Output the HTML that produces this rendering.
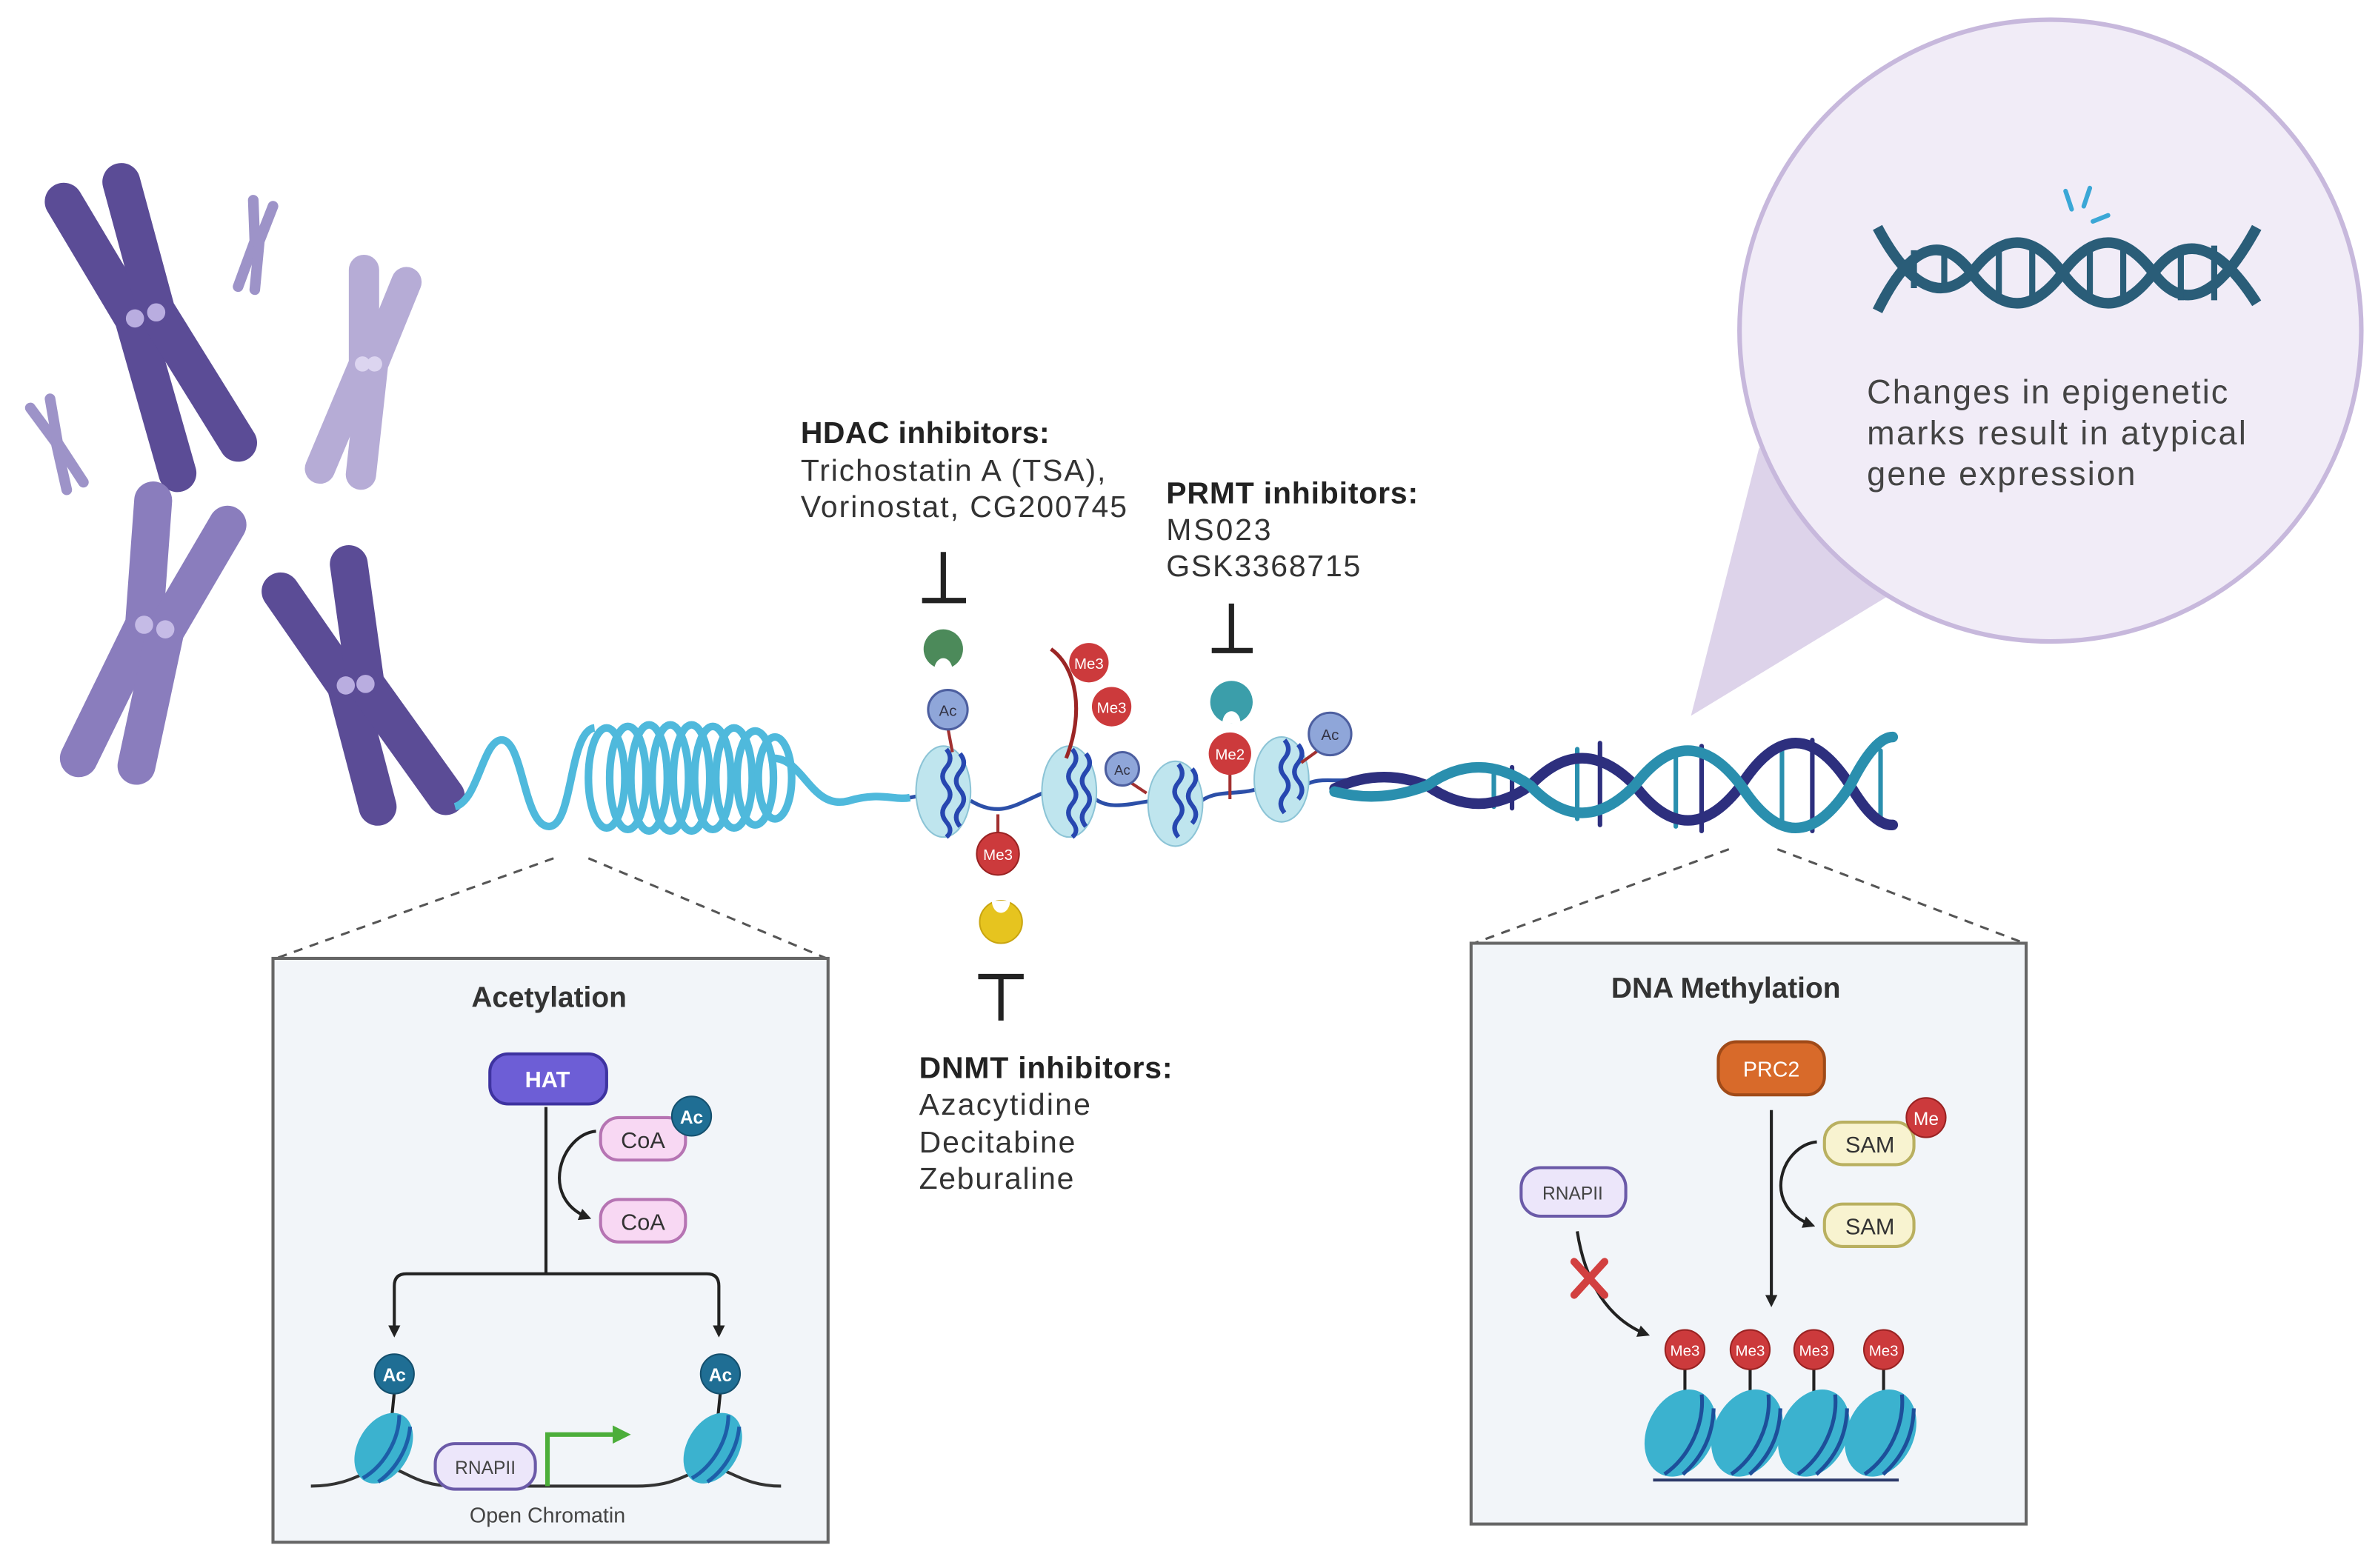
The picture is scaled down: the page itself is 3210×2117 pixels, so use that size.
<!DOCTYPE html>
<html><head><meta charset="utf-8"><style>html,body{margin:0;padding:0;background:#fff}svg{display:block}text{font-family:"Liberation Sans",Arial,sans-serif}</style></head>
<body>
<svg width="3210" height="2117" viewBox="0 0 1568 1034" preserveAspectRatio="none" xmlns="http://www.w3.org/2000/svg">
<defs>
<marker id="ah" markerWidth="8" markerHeight="8" refX="6" refY="4" orient="auto" markerUnits="userSpaceOnUse"><path d="M0,0 L8,4 L0,8 z" fill="#222"/></marker>
<marker id="ahg" markerWidth="12" markerHeight="12" refX="8" refY="6" orient="auto" markerUnits="userSpaceOnUse"><path d="M0,0 L12,6 L0,12 z" fill="#4cae3a"/></marker>
</defs>
<rect width="1568" height="1034" fill="#fff"/>

<!-- chromosomes -->
<g fill="none" stroke-linecap="round" stroke-linejoin="round">
 <g stroke="#5b4c96" stroke-width="25"><polyline points="42,133 88,210 117,312"/><polyline points="80,120 103,205 157,292"/></g>
 <circle cx="89" cy="210" r="6" fill="#b9ade0"/><circle cx="103" cy="206" r="6" fill="#b9ade0"/>
 <g stroke="#9d93c8" stroke-width="7"><polyline points="167,132 168,159 157,189"/><polyline points="180,136 171,159 168,191"/></g>
 <g stroke="#b6acd6" stroke-width="20"><polyline points="240,178 240,240 211,309"/><polyline points="268,186 246,240 238,313"/></g>
 <circle cx="239" cy="240" r="5" fill="#dcd5f0"/><circle cx="247" cy="240" r="5" fill="#dcd5f0"/>
 <g stroke="#9d93c8" stroke-width="7"><polyline points="20,269 37,292 44,323"/><polyline points="33,263 38,292 55,318"/></g>
 <g stroke="#8a7dbd" stroke-width="25"><polyline points="101,330 95,412 52,500"/><polyline points="150,346 109,416 90,505"/></g>
 <circle cx="95" cy="412" r="6" fill="#c5bbe6"/><circle cx="109" cy="415" r="6" fill="#c5bbe6"/>
 <g stroke="#5b4c96" stroke-width="25"><polyline points="185,390 228,452 249,532"/><polyline points="230,372 241,451 294,525"/></g>
 <circle cx="228" cy="452" r="6" fill="#b9ade0"/><circle cx="241" cy="451" r="6" fill="#b9ade0"/>
</g>

<!-- chromatin coil -->
<g fill="none" stroke="#4fb9dc" stroke-width="5">
 <path d="M300,532 C315,528 318,490 330,488 C345,486 345,545 362,545 C378,545 375,482 392,480 M510,500 C530,500 535,535 560,528 C580,522 590,528 600,526"/>
 <ellipse cx="400" cy="513" rx="12" ry="33"/><ellipse cx="414" cy="513" rx="12" ry="34"/><ellipse cx="428" cy="513" rx="12" ry="35"/><ellipse cx="442" cy="513" rx="12" ry="35"/><ellipse cx="456" cy="513" rx="12" ry="35"/><ellipse cx="470" cy="513" rx="12" ry="34"/><ellipse cx="484" cy="513" rx="12" ry="33"/><ellipse cx="498" cy="513" rx="12" ry="31"/><ellipse cx="511" cy="513" rx="11" ry="27"/>
</g>

<!-- linker DNA -->
<path d="M600,526 L610,524 M640,528 C660,540 670,530 690,522 M720,525 C730,535 745,530 760,528 M790,530 C800,520 815,525 830,520 M860,518 C870,512 880,516 890,514" fill="none" stroke="#2c4fa8" stroke-width="2.5"/>

<!-- nucleosomes -->
<g>
 <g transform="translate(622,522)"><ellipse rx="18" ry="30" fill="#bfe5ee" stroke="#8cc4d6"/><path d="M2,-28 q5,6 0,12 q-5,6 0,12 q5,6 0,12 q-5,6 0,12 q5,6 0,10 M11,-25 q5,6 0,12 q-5,6 0,12 q5,6 0,12 q-5,6 0,12" fill="none" stroke="#2747b0" stroke-width="3"/></g>
 <g transform="translate(705,522)"><ellipse rx="18" ry="30" fill="#bfe5ee" stroke="#8cc4d6"/><path d="M2,-28 q5,6 0,12 q-5,6 0,12 q5,6 0,12 q-5,6 0,12 q5,6 0,10 M11,-25 q5,6 0,12 q-5,6 0,12 q5,6 0,12 q-5,6 0,12" fill="none" stroke="#2747b0" stroke-width="3"/></g>
 <g transform="translate(775,530)"><ellipse rx="18" ry="28" fill="#bfe5ee" stroke="#8cc4d6"/><path d="M2,-26 q5,6 0,12 q-5,6 0,12 q5,6 0,12 q-5,6 0,12 M11,-23 q5,6 0,12 q-5,6 0,12 q5,6 0,12" fill="none" stroke="#2747b0" stroke-width="3"/></g>
 <g transform="translate(845,514)"><ellipse rx="18" ry="28" fill="#bfe5ee" stroke="#8cc4d6"/><path d="M2,-26 q5,6 0,12 q-5,6 0,12 q5,6 0,12 q-5,6 0,12 M11,-23 q5,6 0,12 q-5,6 0,12 q5,6 0,12" fill="none" stroke="#2747b0" stroke-width="3"/></g>
</g>

<!-- modifications -->
<g font-size="10" text-anchor="middle" fill="#fff">
 <line x1="625" y1="480" x2="628" y2="496" stroke="#a23030" stroke-width="2"/>
 <circle cx="625" cy="468" r="13" fill="#8fa6d9" stroke="#4d5fa0" stroke-width="1.5"/><text x="625" y="472" fill="#334">Ac</text>
 <line x1="658" y1="537" x2="658" y2="550" stroke="#a23030" stroke-width="2"/>
 <circle cx="658" cy="563" r="14" fill="#cc3a3c" stroke="#922" stroke-width="1"/><text x="658" y="567">Me3</text>
 <path d="M693,428 C710,440 715,470 703,500" fill="none" stroke="#9b2525" stroke-width="2.5"/>
 <circle cx="718" cy="437" r="13" fill="#cc3a3c"/><text x="718" y="441">Me3</text>
 <circle cx="733" cy="466" r="13" fill="#cc3a3c"/><text x="733" y="470">Me3</text>
 <line x1="744" y1="515" x2="756" y2="523" stroke="#a23030" stroke-width="2"/>
 <circle cx="740" cy="507" r="11" fill="#8fa6d9" stroke="#4d5fa0" stroke-width="1.5"/><text x="740" y="511" fill="#334" font-size="9">Ac</text>
 <line x1="811" y1="510" x2="811" y2="527" stroke="#a23030" stroke-width="2"/>
 <circle cx="811" cy="497" r="14" fill="#cc3a3c"/><text x="811" y="501">Me2</text>
 <line x1="869" y1="495" x2="858" y2="503" stroke="#a23030" stroke-width="2"/>
 <circle cx="877" cy="484" r="14" fill="#8fa6d9" stroke="#4d5fa0" stroke-width="1.5"/><text x="877" y="488" fill="#334">Ac</text>
</g>
<!-- pacmen -->
<path d="M622,415 a13,13 0 1,1 -0.01,0 z" fill="#4c8a5a"/><path d="M616,442 a6,8 0 0,1 12,0 z" fill="#fff"/>
<path d="M812,449 a14,14 0 1,1 -0.01,0 z" fill="#3b9eaa"/><path d="M806,477 a6,8 0 0,1 12,0 z" fill="#fff"/>
<circle cx="660" cy="608" r="14" fill="#e6c41f" stroke="#c9a510"/><path d="M654,594 a6,8 0 0,0 12,0 z" fill="#fff"/>

<!-- inhibitor bars -->
<g stroke="#222" stroke-width="3.5" fill="none">
 <path d="M622,364 V396 M608,396 H637"/>
 <path d="M812,398 V429 M799,429 H826"/>
 <path d="M645,644 H675 M660,644 V673"/>
</g>

<!-- labels -->
<g fill="#333" font-size="20">
 <text x="528" y="292" font-weight="bold" fill="#222" textLength="164">HDAC inhibitors:</text>
 <text x="528" y="317" textLength="201">Trichostatin A (TSA),</text>
 <text x="528" y="341" textLength="215">Vorinostat, CG200745</text>
 <text x="769" y="332" font-weight="bold" fill="#222" textLength="166">PRMT inhibitors:</text>
 <text x="769" y="356" textLength="69">MS023</text>
 <text x="769" y="380" textLength="128">GSK3368715</text>
 <text x="606" y="711" font-weight="bold" fill="#222" textLength="167">DNMT inhibitors:</text>
 <text x="606" y="735" textLength="113">Azacytidine</text>
 <text x="606" y="760" textLength="103">Decitabine</text>
 <text x="606" y="784" textLength="102">Zeburaline</text>
</g>

<!-- DNA helix -->
<g fill="none" stroke-linecap="round">
 <g stroke-width="3">
  <line x1="985" y1="510" x2="985" y2="532" stroke="#2a8fae"/><line x1="997" y1="506" x2="997" y2="533" stroke="#2d2f7e"/>
  <line x1="1040" y1="494" x2="1040" y2="540" stroke="#2a8fae"/><line x1="1055" y1="490" x2="1055" y2="544" stroke="#2d2f7e"/>
  <line x1="1105" y1="495" x2="1105" y2="545" stroke="#2a8fae"/><line x1="1122" y1="492" x2="1122" y2="548" stroke="#2d2f7e"/>
  <line x1="1175" y1="490" x2="1175" y2="545" stroke="#2a8fae"/><line x1="1195" y1="488" x2="1195" y2="548" stroke="#2d2f7e"/>
  <line x1="1240" y1="495" x2="1240" y2="540" stroke="#2a8fae"/>
 </g>
 <path d="M880,520 Q910,506 941,518 Q975,542 1009,518 Q1043,482 1078,518 Q1113,564 1148,518 Q1184,462 1220,518 Q1236,545 1248,544" stroke="#2d2f7e" stroke-width="7"/>
 <path d="M880,522 Q910,530 941,518 Q975,494 1009,518 Q1043,554 1078,518 Q1113,472 1148,518 Q1184,574 1220,518 Q1236,486 1248,486" stroke="#2a8fae" stroke-width="7"/>
</g>

<!-- callout -->
<polygon points="1160,295 1115,472 1250,390" fill="#ddd3ea"/>
<circle cx="1352" cy="218" r="205" fill="#f1ecf7" stroke="#c7b8dc" stroke-width="3"/>
<g fill="none" stroke="#2a5d78" stroke-width="7">
 <path d="M1238,150 Q1270,210 1300,180 Q1330,140 1360,180 Q1390,220 1420,180 Q1450,140 1488,200"/>
 <path d="M1238,205 Q1270,140 1300,180 Q1330,220 1360,180 Q1390,140 1420,180 Q1450,220 1488,150"/>
 <g stroke-width="4"><line x1="1262" y1="165" x2="1262" y2="190"/><line x1="1282" y1="168" x2="1282" y2="192"/><line x1="1318" y1="162" x2="1318" y2="198"/><line x1="1340" y1="162" x2="1340" y2="198"/><line x1="1378" y1="162" x2="1378" y2="198"/><line x1="1400" y1="162" x2="1400" y2="198"/><line x1="1438" y1="162" x2="1438" y2="198"/><line x1="1460" y1="162" x2="1460" y2="198"/></g>
</g>
<g stroke="#3ba7d6" stroke-width="3" stroke-linecap="round"><line x1="1362" y1="126" x2="1366" y2="138"/><line x1="1378" y1="124" x2="1374" y2="136"/><line x1="1390" y1="142" x2="1380" y2="146"/></g>
<g fill="#444" font-size="22"><text x="1231" y="266" textLength="238">Changes in epigenetic</text><text x="1231" y="293" textLength="250">marks result in atypical</text><text x="1231" y="320" textLength="177">gene expression</text></g>

<!-- dashed connectors -->
<g stroke="#555" stroke-width="1.5" stroke-dasharray="6,5" fill="none">
 <line x1="365" y1="566" x2="182" y2="632"/><line x1="388" y1="566" x2="545" y2="632"/>
 <line x1="1140" y1="560" x2="972" y2="622"/><line x1="1172" y1="560" x2="1335" y2="622"/>
</g>

<!-- Acetylation box -->
<rect x="180" y="632" width="366" height="385" fill="#f2f5f9" stroke="#666" stroke-width="2"/>
<text x="362" y="664" font-size="19" font-weight="bold" fill="#333" text-anchor="middle">Acetylation</text>
<rect x="323" y="695" width="77" height="33" rx="12" fill="#6d5ed6" stroke="#3e33a0" stroke-width="2"/>
<text x="361" y="717" font-size="15" font-weight="bold" fill="#fff" text-anchor="middle">HAT</text>
<g fill="none" stroke="#222" stroke-width="2">
 <path d="M360,730 V840"/>
 <path d="M360,840 H268 q-8,0 -8,8 V880" marker-end="url(#ah)"/>
 <path d="M360,840 H466 q8,0 8,8 V880" marker-end="url(#ah)"/>
 <path d="M393,746 C370,748 355,790 388,803" marker-end="url(#ah)"/>
</g>
<rect x="396" y="737" width="56" height="28" rx="12" fill="#f8d8f3" stroke="#b674b3" stroke-width="2"/>
<text x="424" y="757" font-size="15" fill="#333" text-anchor="middle">CoA</text>
<circle cx="456" cy="736" r="13" fill="#1f6e94" stroke="#15506e"/><text x="456" y="741" font-size="12" font-weight="bold" fill="#fff" text-anchor="middle">Ac</text>
<rect x="396" y="791" width="56" height="28" rx="12" fill="#f8d8f3" stroke="#b674b3" stroke-width="2"/>
<text x="424" y="811" font-size="15" fill="#333" text-anchor="middle">CoA</text>
<path d="M205,980 C230,980 240,970 250,968 C265,965 270,980 300,980 H420 C450,980 455,968 470,968 C480,968 490,980 515,980" fill="none" stroke="#333" stroke-width="2"/>
<line x1="260" y1="918" x2="258" y2="938" stroke="#222" stroke-width="2"/><line x1="475" y1="918" x2="473" y2="938" stroke="#222" stroke-width="2"/>
<g transform="translate(253,955) rotate(30)"><ellipse rx="17" ry="25" fill="#3bb2cf"/><path d="M-2,-24 C6,-10 6,10 -2,24 M8,-21 C14,-8 14,8 8,21" fill="none" stroke="#1d5ea8" stroke-width="2.5"/></g>
<g transform="translate(470,955) rotate(30)"><ellipse rx="17" ry="25" fill="#3bb2cf"/><path d="M-2,-24 C6,-10 6,10 -2,24 M8,-21 C14,-8 14,8 8,21" fill="none" stroke="#1d5ea8" stroke-width="2.5"/></g>
<circle cx="260" cy="906" r="13" fill="#1f6e94" stroke="#15506e"/><text x="260" y="911" font-size="12" font-weight="bold" fill="#fff" text-anchor="middle">Ac</text>
<circle cx="475" cy="906" r="13" fill="#1f6e94" stroke="#15506e"/><text x="475" y="911" font-size="12" font-weight="bold" fill="#fff" text-anchor="middle">Ac</text>
<rect x="287" y="952" width="66" height="30" rx="13" fill="#ece6fa" stroke="#6b5aa8" stroke-width="2"/>
<text x="320" y="972" font-size="12" fill="#444" text-anchor="middle">RNAPII</text>
<path d="M361,980 V946 H412" fill="none" stroke="#4cae3a" stroke-width="3" marker-end="url(#ahg)"/>
<text x="361" y="1004" font-size="14" fill="#444" text-anchor="middle">Open Chromatin</text>

<!-- DNA Methylation box -->
<rect x="970" y="622" width="366" height="383" fill="#f2f5f9" stroke="#666" stroke-width="2"/>
<text x="1138" y="658" font-size="19" font-weight="bold" fill="#333" text-anchor="middle">DNA Methylation</text>
<rect x="1133" y="687" width="70" height="35" rx="12" fill="#d86a2a" stroke="#a04a18" stroke-width="2"/>
<text x="1168" y="710" font-size="14" fill="#fff" text-anchor="middle">PRC2</text>
<g fill="none" stroke="#222" stroke-width="2">
 <path d="M1168,732 V860" marker-end="url(#ah)"/>
 <path d="M1198,753 C1175,755 1160,795 1195,808" marker-end="url(#ah)"/>
 <path d="M1040,812 C1045,845 1060,870 1086,880" marker-end="url(#ah)"/>
</g>
<path d="M1038,832 L1058,854 M1058,832 L1038,854" stroke="#d24040" stroke-width="5" stroke-linecap="round"/>
<rect x="1203" y="740" width="59" height="28" rx="12" fill="#f8f3d0" stroke="#b9b060" stroke-width="2"/>
<text x="1233" y="760" font-size="15" fill="#333" text-anchor="middle">SAM</text>
<circle cx="1270" cy="737" r="13" fill="#cc3a3c" stroke="#922"/><text x="1270" y="742" font-size="12" fill="#fff" text-anchor="middle">Me</text>
<rect x="1203" y="794" width="59" height="28" rx="12" fill="#f8f3d0" stroke="#b9b060" stroke-width="2"/>
<text x="1233" y="814" font-size="15" fill="#333" text-anchor="middle">SAM</text>
<rect x="1003" y="770" width="69" height="32" rx="13" fill="#ece6fa" stroke="#6b5aa8" stroke-width="2"/>
<text x="1037" y="791" font-size="12" fill="#444" text-anchor="middle">RNAPII</text>
<g stroke="#222" stroke-width="2"><line x1="1111" y1="900" x2="1111" y2="925"/><line x1="1154" y1="900" x2="1154" y2="925"/><line x1="1196" y1="900" x2="1196" y2="925"/><line x1="1242" y1="900" x2="1242" y2="925"/></g>
<g>
 <g transform="translate(1108,945) rotate(25)"><ellipse rx="22" ry="30" fill="#3bb2cf"/><path d="M2,-29 C12,-12 12,12 2,29 M13,-24 C20,-8 20,8 13,24" fill="none" stroke="#1d4f9a" stroke-width="2.5"/></g>
 <g transform="translate(1152,945) rotate(25)"><ellipse rx="22" ry="30" fill="#3bb2cf"/><path d="M2,-29 C12,-12 12,12 2,29 M13,-24 C20,-8 20,8 13,24" fill="none" stroke="#1d4f9a" stroke-width="2.5"/></g>
 <g transform="translate(1196,945) rotate(25)"><ellipse rx="22" ry="30" fill="#3bb2cf"/><path d="M2,-29 C12,-12 12,12 2,29 M13,-24 C20,-8 20,8 13,24" fill="none" stroke="#1d4f9a" stroke-width="2.5"/></g>
 <g transform="translate(1240,945) rotate(25)"><ellipse rx="22" ry="30" fill="#3bb2cf"/><path d="M2,-29 C12,-12 12,12 2,29 M13,-24 C20,-8 20,8 13,24" fill="none" stroke="#1d4f9a" stroke-width="2.5"/></g>
</g>
<path d="M1090,976 H1252" stroke="#2d3a6a" stroke-width="2"/>
<g font-size="10" fill="#fff" text-anchor="middle">
 <circle cx="1111" cy="890" r="13" fill="#cc3a3c" stroke="#922"/><text x="1111" y="894">Me3</text>
 <circle cx="1154" cy="890" r="13" fill="#cc3a3c" stroke="#922"/><text x="1154" y="894">Me3</text>
 <circle cx="1196" cy="890" r="13" fill="#cc3a3c" stroke="#922"/><text x="1196" y="894">Me3</text>
 <circle cx="1242" cy="890" r="13" fill="#cc3a3c" stroke="#922"/><text x="1242" y="894">Me3</text>
</g>
</svg>
</body></html>
